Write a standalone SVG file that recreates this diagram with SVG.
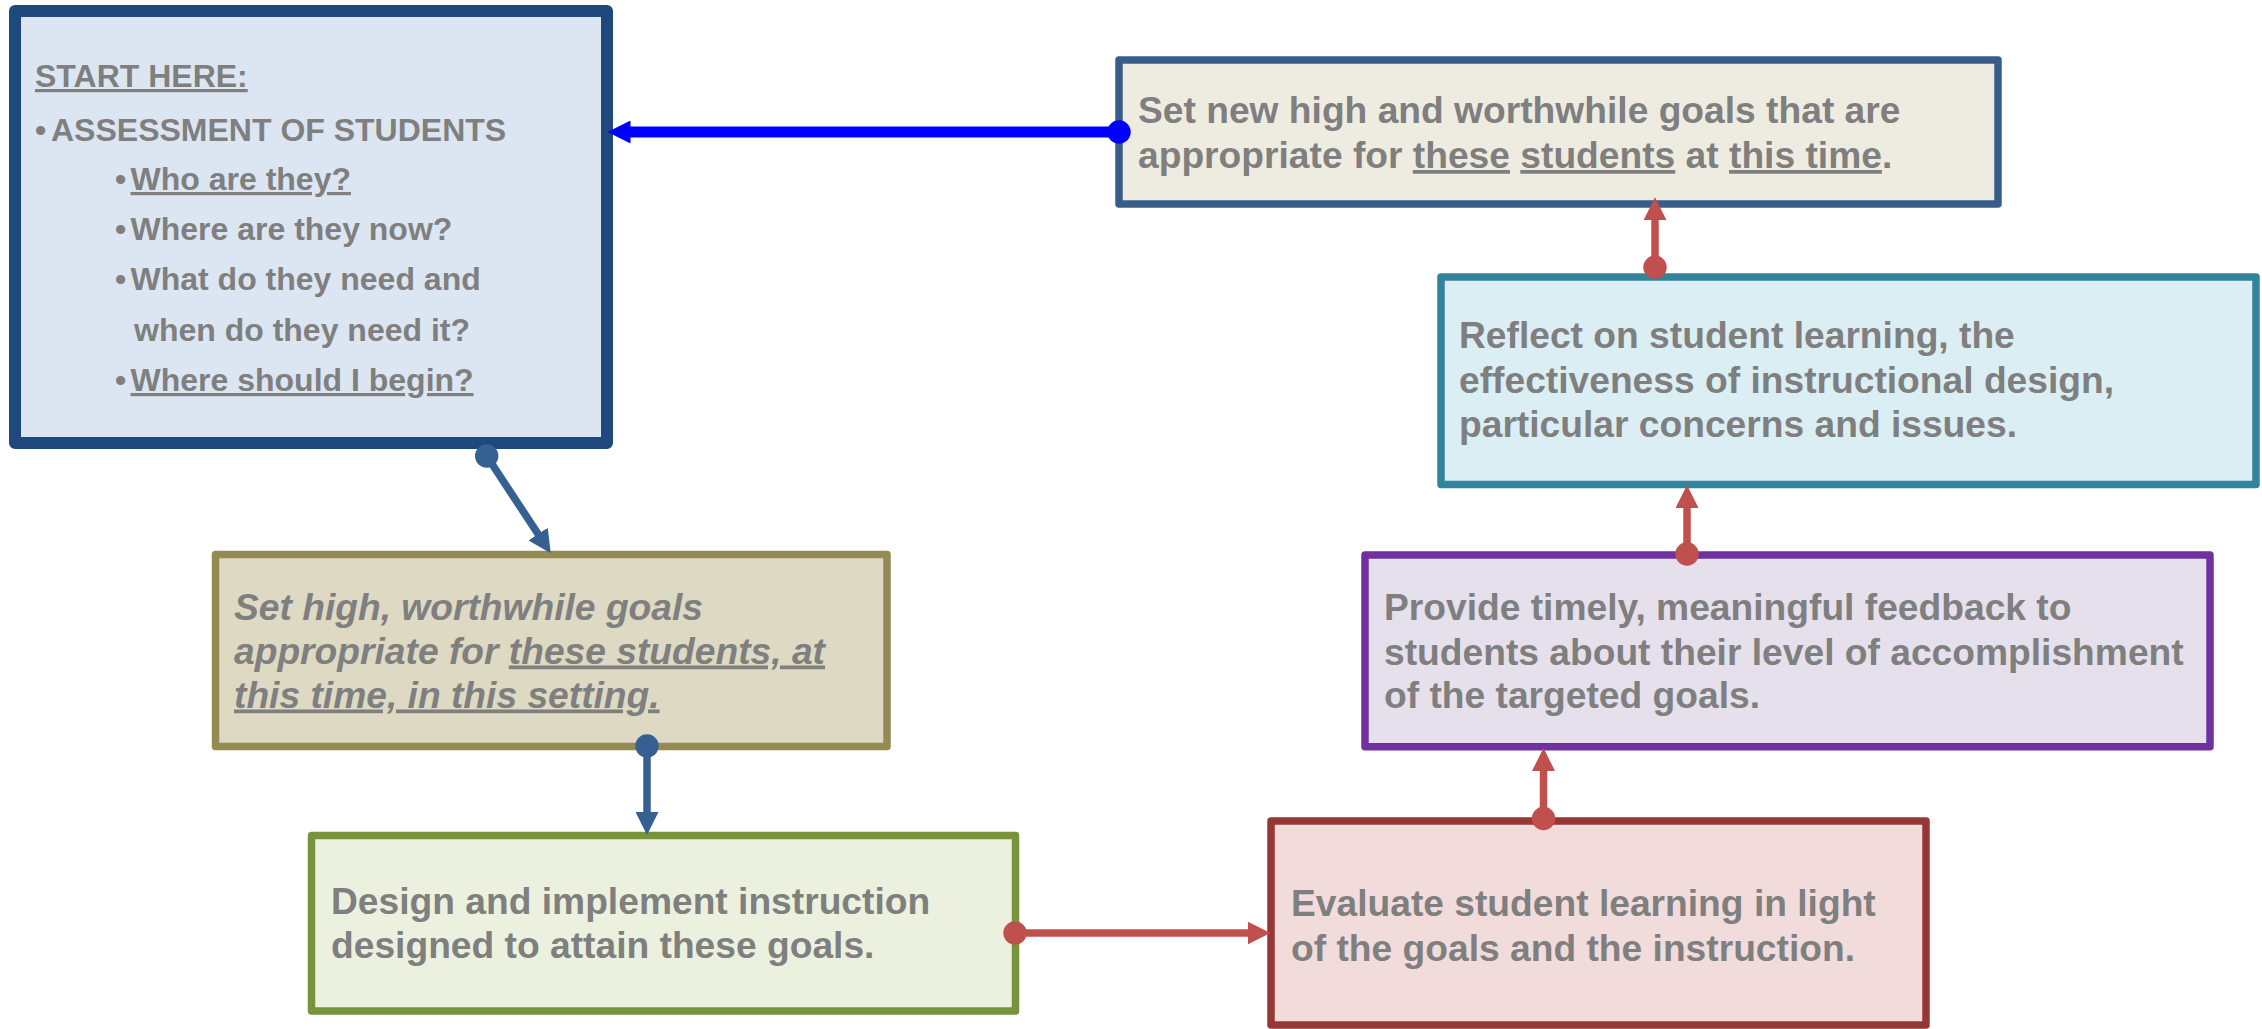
<svg xmlns="http://www.w3.org/2000/svg" width="2262" height="1029" viewBox="0 0 2262 1029">
<style>
.box { stroke-width: 7.5; stroke-linejoin: round; }
.t { font-family: "Liberation Sans", Arial, sans-serif; font-weight: bold; fill: #7f7f7f; font-size: 37.2px; }
.s { font-size: 32px; }
.i { font-style: italic; }
.u { text-decoration: underline; }
.con { fill: none; }
</style>
<defs>
<marker id="dotBlue" markerUnits="userSpaceOnUse" markerWidth="26" markerHeight="26" refX="13" refY="13" viewBox="0 0 26 26"><circle cx="13" cy="13" r="11.7" fill="#0000ff"/></marker>
<marker id="arrBlue" markerUnits="userSpaceOnUse" markerWidth="23" markerHeight="23" refX="10" refY="11.5" orient="auto" viewBox="0 0 23 23"><path d="M0,0L23,11.5L0,23z" fill="#0000ff"/></marker>
<marker id="dotSteel" markerUnits="userSpaceOnUse" markerWidth="26" markerHeight="26" refX="13" refY="13" viewBox="0 0 26 26"><circle cx="13" cy="13" r="11.7" fill="#376092"/></marker>
<marker id="arrSteel" markerUnits="userSpaceOnUse" markerWidth="23" markerHeight="23" refX="10" refY="11.5" orient="auto" viewBox="0 0 23 23"><path d="M0,0L23,11.5L0,23z" fill="#376092"/></marker>
<marker id="dotRed" markerUnits="userSpaceOnUse" markerWidth="26" markerHeight="26" refX="13" refY="13" viewBox="0 0 26 26"><circle cx="13" cy="13" r="11.7" fill="#c0504d"/></marker>
<marker id="arrRed" markerUnits="userSpaceOnUse" markerWidth="23" markerHeight="23" refX="10" refY="11.5" orient="auto" viewBox="0 0 23 23"><path d="M0,0L23,11.5L0,23z" fill="#c0504d"/></marker>
</defs>
<rect width="2262" height="1029" fill="#ffffff"/>

<g id="node-start">
<rect class="box" x="15" y="11" width="592" height="432" fill="#dce6f2" stroke="#1f497d" style="stroke-width:12"/>
<text class="t s" x="35" y="87"><tspan class="u">START HERE:</tspan></text>
<text class="t s" y="141"><tspan x="35">•</tspan><tspan x="51">ASSESSMENT OF STUDENTS</tspan></text>
<text class="t s" y="190"><tspan x="115">•</tspan><tspan x="130.5" class="u">Who are they?</tspan></text>
<text class="t s" y="240"><tspan x="115">•</tspan><tspan x="130.5">Where are they now?</tspan></text>
<text class="t s" y="290"><tspan x="115">•</tspan><tspan x="130.5">What do they need and</tspan></text>
<text class="t s" x="134" y="341">when do they need it?</text>
<text class="t s" y="391"><tspan x="115">•</tspan><tspan x="130.5" class="u">Where should I begin?</tspan></text>
</g>

<g id="node-set-goals">
<rect class="box" x="215.5" y="554.5" width="671.5" height="192" fill="#ddd9c3" stroke="#948a54"/>
<text class="t i" x="234" y="620">Set high, worthwhile goals</text>
<text class="t i" x="234" y="663.5">appropriate for <tspan class="u">these students, at</tspan></text>
<text class="t i" x="234" y="707.5"><tspan class="u">this time, in this setting.</tspan></text>
</g>

<g id="node-design">
<rect class="box" x="311.5" y="835.5" width="704" height="175.5" fill="#ebf1de" stroke="#77933c"/>
<text class="t" x="331" y="914">Design and implement instruction</text>
<text class="t" x="331" y="958">designed to attain these goals.</text>
</g>

<g id="node-evaluate">
<rect class="box" x="1271" y="821" width="655" height="204" fill="#f2dcdb" stroke="#953735"/>
<text class="t" x="1291" y="915.5">Evaluate student learning in light</text>
<text class="t" x="1291" y="961">of the goals and the instruction.</text>
</g>

<g id="node-feedback">
<rect class="box" x="1365" y="555" width="845" height="191.7" fill="#e5e0ec" stroke="#7030a0"/>
<text class="t" x="1384" y="620">Provide timely, meaningful feedback to</text>
<text class="t" x="1384" y="664.5">students about their level of accomplishment</text>
<text class="t" x="1384" y="708">of the targeted goals.</text>
</g>

<g id="node-reflect">
<rect class="box" x="1441" y="277" width="815" height="207.5" fill="#dbeef4" stroke="#31849b"/>
<text class="t" x="1459" y="348">Reflect on student learning, the</text>
<text class="t" x="1459" y="392.5">effectiveness of instructional design,</text>
<text class="t" x="1459" y="437">particular concerns and issues.</text>
</g>

<g id="node-new-goals">
<rect class="box" x="1119" y="60" width="879" height="144" fill="#eeece1" stroke="#385d8a"/>
<text class="t" x="1138" y="123">Set new high and worthwhile goals that are</text>
<text class="t" x="1138" y="168">appropriate for <tspan class="u">these</tspan> <tspan class="u">students</tspan> at <tspan class="u">this time</tspan>.</text>
</g>

<g id="connectors">
<path class="con" d="M1119,132 L620.5,132" stroke="#0000ff" stroke-width="11" marker-start="url(#dotBlue)" marker-end="url(#arrBlue)"/>
<path class="con" d="M486.7,456 L543.6,542.4" stroke="#376092" stroke-width="7.5" marker-start="url(#dotSteel)" marker-end="url(#arrSteel)"/>
<path class="con" d="M647,746 L647,822" stroke="#376092" stroke-width="7.5" marker-start="url(#dotSteel)" marker-end="url(#arrSteel)"/>
<path class="con" d="M1015,933 L1257.5,933" stroke="#c0504d" stroke-width="7.5" marker-start="url(#dotRed)" marker-end="url(#arrRed)"/>
<path class="con" d="M1543.5,818.5 L1543.5,761" stroke="#c0504d" stroke-width="7.5" marker-start="url(#dotRed)" marker-end="url(#arrRed)"/>
<path class="con" d="M1687,554 L1687,498" stroke="#c0504d" stroke-width="7.5" marker-start="url(#dotRed)" marker-end="url(#arrRed)"/>
<path class="con" d="M1655,267.3 L1655,210.3" stroke="#c0504d" stroke-width="7.5" marker-start="url(#dotRed)" marker-end="url(#arrRed)"/>
</g>
</svg>
